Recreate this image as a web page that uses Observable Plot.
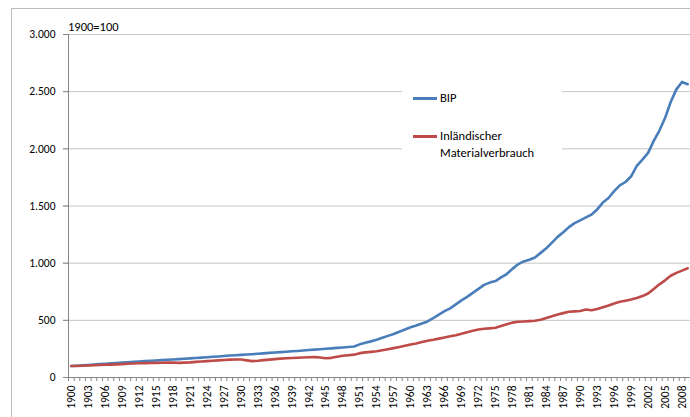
<!DOCTYPE html>
<html>
<head>
<meta charset="utf-8">
<script src="https://cdn.jsdelivr.net/npm/d3@7"></script>
<script src="https://cdn.jsdelivr.net/npm/@observablehq/plot@0.6"></script>
<style>
  html, body { margin: 0; padding: 0; background: #fff; }
  #wrap { position: relative; width: 690px; height: 417px; overflow: hidden; font-family: Carlito, Lato, sans-serif; color: #000; }
  #frame { position: absolute; left: 11px; top: 8px; width: 720px; height: 440px; border: 1px solid #bdbdbd; box-sizing: border-box; }
  #chart { position: absolute; left: 0; top: 0; }
  #unit { position: absolute; left: 68px; top: 20px; font-size: 12.5px; line-height: 14px; }
  #legend { position: absolute; left: 402px; top: 78px; width: 160px; height: 88px; background: #fff; }
  .lline { position: absolute; width: 24px; height: 2.6px; }
  .ltext { position: absolute; font-size: 12.5px; line-height: 16.5px; white-space: nowrap; }
</style>
</head>
<body>
<div id="wrap">
  <div id="frame"></div>
  <div id="chart"></div>
  <div id="unit"></div>
  <div id="legend"></div>
</div>
<script>
// ---- data ----
const years = d3.range(1900, 2010);
const seriesNames = ["BIP", "Inländischer\nMaterialverbrauch"];
const seriesColors = ["#4a7ebb", "#be4b48"];
const unitLabel = "1900=100";
const yTicks = [0, 500, 1000, 1500, 2000, 2500, 3000];

const bip = [
  100,103,106,110,113,117,120,124,127,130,
  134,137,140,144,146,149,152,155,158,161,
  164,167,170,174,177,181,184,188,192,195,
  198,201,204,208,211,215,218,222,225,229,
  232,236,240,244,247,251,255,259,263,267,
  271,290,303,316,330,347,364,380,400,420,
  440,455,472,490,520,550,580,605,640,675,
  705,740,775,810,830,843,875,905,950,990,
  1015,1030,1050,1090,1130,1180,1230,1270,1315,1350,
  1375,1400,1425,1470,1530,1570,1630,1680,1710,1760,
  1850,1905,1965,2070,2160,2270,2410,2520,2585,2565
];
const dmc = [
  100,101,103,105,107,109,111,113,115,117,
  120,122,124,126,127,128,129,130,131,128,
  130,132,137,140,143,147,150,153,156,158,
  157,150,143,146,152,156,161,165,168,171,
  173,175,177,178,175,169,172,182,190,195,
  200,213,220,224,229,238,247,257,266,278,
  288,298,310,322,330,340,350,360,370,382,
  395,408,420,426,430,435,450,465,480,487,
  490,493,497,505,520,535,550,563,575,578,
  582,595,588,600,615,630,648,662,672,682,
  695,712,735,775,815,850,890,915,935,955
];

const rows = [];
years.forEach((y, i) => {
  rows.push({year: y, value: bip[i], series: seriesNames[0]});
  rows.push({year: y, value: dmc[i], series: seriesNames[1]});
});

const de = d3.formatLocale({decimal: ",", thousands: ".", grouping: [3], currency: ["", "€"]});
const fmt = de.format(",");
const labelYears = years.filter(y => (y - 1900) % 3 === 0);
const halfTicks = years.map(y => y - 0.5).concat([years[years.length - 1] + 0.5]);

const plot = Plot.plot({
  width: 690,
  height: 417,
  marginLeft: 68,
  marginRight: 0,
  marginTop: 34,
  marginBottom: 40,
  style: {fontFamily: "Carlito, Lato, sans-serif", fontSize: "11px", color: "#000", background: "transparent"},
  x: {domain: [years[0] - 0.5, years[years.length - 1] + 0.5], axis: null, label: null},
  y: {domain: [0, 3000], axis: null, label: null},
  color: {domain: seriesNames, range: seriesColors},
  marks: [
    Plot.gridY(yTicks.filter(d => d > 0), {stroke: "#c4c4c4", strokeOpacity: 1, insetLeft: -5}),
    Plot.ruleX([years[0] - 0.5], {stroke: "#868686"}),
    Plot.ruleY([0], {stroke: "#868686"}),
    Plot.axisY(yTicks, {tickSize: 5, tickPadding: 8, tickFormat: fmt, stroke: "#868686", fontSize: 11.5, fill: "#000", label: null}),
    Plot.axisX(halfTicks, {tickSize: 4, tickFormat: () => "", stroke: "#868686", label: null}),
    Plot.axisX(labelYears, {tickSize: 0, tickPadding: 8, tickRotate: -90, tickFormat: d => String(d), fontSize: 11.5, fill: "#000", label: null}),
    Plot.line(rows, {x: "year", y: "value", z: "series", stroke: "series", strokeWidth: 2.6, curve: "linear"})
  ]
});
document.getElementById("chart").appendChild(plot);
document.getElementById("unit").textContent = unitLabel;

// legend
const legend = document.getElementById("legend");
const legendRows = [
  {top: 19, textTop: 12},
  {top: 57, textTop: 50}
];
seriesNames.forEach((name, i) => {
  const ln = document.createElement("div");
  ln.className = "lline";
  ln.style.left = "11px";
  ln.style.top = legendRows[i].top + "px";
  ln.style.background = seriesColors[i];
  legend.appendChild(ln);
  const tx = document.createElement("div");
  tx.className = "ltext";
  tx.style.left = "38px";
  tx.style.top = legendRows[i].textTop + "px";
  tx.innerHTML = name.split("\n").join("<br>");
  legend.appendChild(tx);
});
</script>
</body>
</html>
